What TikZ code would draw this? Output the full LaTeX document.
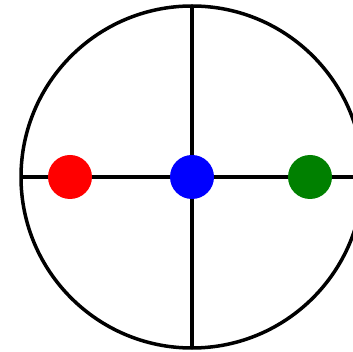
\documentclass[tikz,border=0pt]{standalone}
\usepackage{tikz}
\usetikzlibrary{positioning}

\begin{document}
\begin{tikzpicture}[
    x=1pt, y=-1pt,
    axisline/.style={draw, line width=3.5pt},
    dotnode/.style={circle, inner sep=0pt, minimum size=44pt}
]
\useasboundingbox (0,0) rectangle (353,352);
\clip (0,0) rectangle (353,352);

% circle and axes
\coordinate (center) at (192,177);
\draw[axisline] (center) circle (171);
\coordinate (left) at (21,177);
\coordinate (right) at (363,177);
\coordinate (top) at (192,6);
\coordinate (bottom) at (192,348);
\draw[axisline] (left) -- (right);
\draw[axisline] (top) -- (bottom);

% dots
\node[dotnode, fill=red] (reddot) at (70,177) {};
\node[dotnode, fill=blue] (bluedot) at (center) {};
\node[dotnode, fill={rgb,255:red,0;green,128;blue,0}] (greendot) at (310,177) {};
\end{tikzpicture}
\end{document}
